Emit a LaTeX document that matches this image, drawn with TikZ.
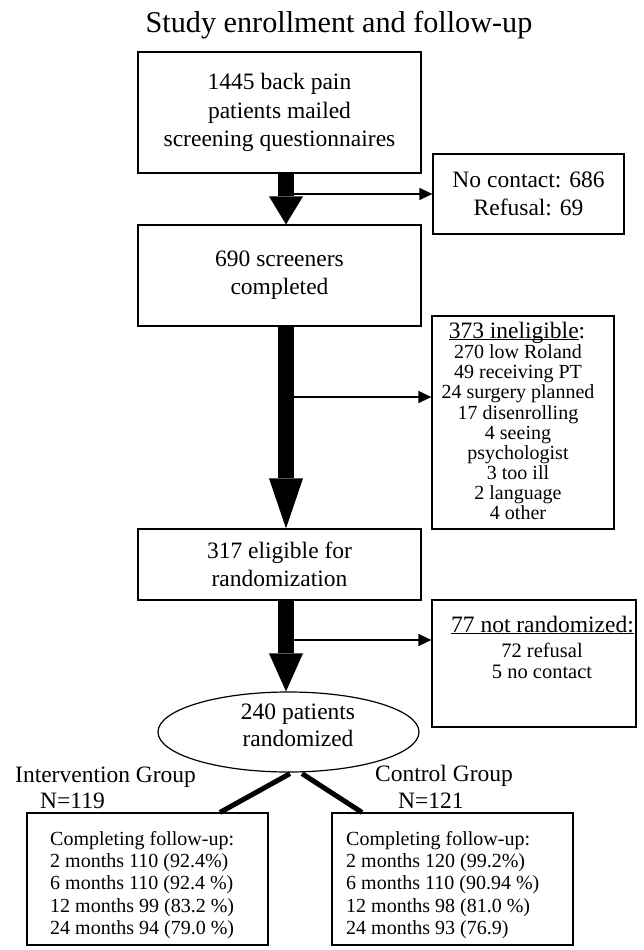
\documentclass[tikz,border=0pt]{standalone}
\usepackage{fontspec}
\setmainfont{Liberation Serif}
\usetikzlibrary{arrows.meta,shapes.geometric,calc}
\newsavebox\myulbox
\newcommand{\myul}[1]{\sbox\myulbox{#1}\rlap{\rule[-2.3pt]{\wd\myulbox}{1pt}}\usebox\myulbox}
\begin{document}
\begin{tikzpicture}[x=1pt,y=-1pt,
  box/.style={draw, line width=1.2pt, rectangle, inner sep=0pt, align=center},
  bigtext/.style={font=\fontsize{23.5}{28.3}\selectfont},
  midtext/.style={font=\fontsize{20.5}{21}\selectfont},
  smalltext/.style={font=\fontsize{20}{20.1}\selectfont},
  lbl/.style={inner sep=0pt},
  thickarrow/.style={line width=16pt, -{Triangle[length=#1,width=34pt,line width=0pt]}},
  thinarrow/.style={line width=1.2pt, -{Triangle[length=13pt,width=12pt]}},
  branch/.style={line width=5pt},
]
\useasboundingbox (0,0) rectangle (644,950);
\fill[white] (0,0) rectangle (644,950);

% title
\node[lbl, anchor=base, font=\fontsize{30.2}{33}\selectfont] (title) at (339,33) {Study enrollment and follow-up};

% main column
\node[box, bigtext, minimum width=283pt, minimum height=121pt] (b1) at (279.5,112.5) {1445 back pain\\patients mailed\\screening questionnaires};
\node[box, bigtext, minimum width=283pt, minimum height=101pt] (b2) at (279.5,275.5) {690 screeners\\completed};
\node[box, bigtext, minimum width=283pt, minimum height=71pt] (b3) at (279.5,564.5) {317 eligible for\\randomization};
\node[draw, ellipse, line width=1.2pt, inner sep=0pt, minimum width=261pt, minimum height=80pt] (el) at (288.5,732) {};
\node[lbl, bigtext, anchor=base] (elt1) at (298,719) {240 patients};
\node[lbl, bigtext, anchor=base] (elt2) at (298,746) {randomized};

% side boxes
\node[box, bigtext, minimum width=191pt, minimum height=80pt] (nc) at (528.5,194) {No contact: 686\\Refusal: 69};

\node[box, minimum width=182pt, minimum height=213pt] (ie) at (523,422.5) {};
\node[lbl, bigtext, anchor=base] (ieh) at (517,338) {\myul{373 ineligible}:};
\foreach \t [count=\i] in {270 low Roland, 49 receiving PT, 24 surgery planned, 17 disenrolling, 4 seeing, psychologist, 3 too ill, 2 language, 4 other}
  \node[lbl, smalltext, anchor=base] (iel\i) at (518,338.5+20.15*\i) {\t};

\node[box, minimum width=204pt, minimum height=127pt] (nr) at (534,663.5) {};
\node[lbl, bigtext, anchor=base] (nrh) at (542.5,632) {\myul{77 not randomized:}};
\node[lbl, midtext, anchor=base] (nr1) at (542,657) {72 refusal};
\node[lbl, midtext, anchor=base] (nr2) at (542,678) {5 no contact};

% groups
\node[lbl, bigtext, anchor=base west] (ig) at (15,782) {Intervention Group};
\node[lbl, bigtext, anchor=base west] (ign) at (40,808) {N=119};
\node[lbl, bigtext, anchor=base west] (cg) at (375,781) {Control Group};
\node[lbl, bigtext, anchor=base west] (cgn) at (398,808) {N=121};

\node[box, minimum width=241pt, minimum height=132pt] (ib) at (147.5,879) {};
\node[box, minimum width=241pt, minimum height=132pt] (cb) at (452.5,879) {};
\foreach \t [count=\i] in {Completing follow-up:, 2 months 110 (92.4\%), 6 months 110 (92.4 \%), 12 months 99 (83.2 \%), 24 months 94 (79.0 \%)}
  \node[lbl, smalltext, anchor=base west] (ibl\i) at (50,822.6+22.4*\i) {\t};
\foreach \t [count=\i] in {Completing follow-up:, 2 months 120 (99.2\%), 6 months 110 (90.94 \%), 12 months 98 (81.0 \%), 24 months 93 (76.9)}
  \node[lbl, smalltext, anchor=base west] (cbl\i) at (346,822.6+22.4*\i) {\t};

% connectors
\coordinate (ax) at (286,0);
\draw[thickarrow=28pt] (b1.south -| ax) -- (b2.north -| ax);
\draw[thickarrow=50pt] (b2.south -| ax) -- (b3.north -| ax);
\draw[thickarrow=38pt] (b3.south -| ax) -- (el.north -| ax);

\coordinate (j1) at (294,194);
\coordinate (j2) at (294,397);
\coordinate (j3) at (294,640);
\draw[thinarrow] (j1) -- (j1 -| nc.west);
\draw[thinarrow] (j2) -- (j2 -| ie.west);
\draw[thinarrow] (j3) -- (j3 -| nr.west);

\draw[branch] ($(el.south)+(1.5,1)$) -- ($(ib.north)+(72.5,0)$);
\draw[branch] ($(el.south)+(13.5,1)$) -- ($(cb.north)+(-90.5,0)$);
\end{tikzpicture}
\end{document}
